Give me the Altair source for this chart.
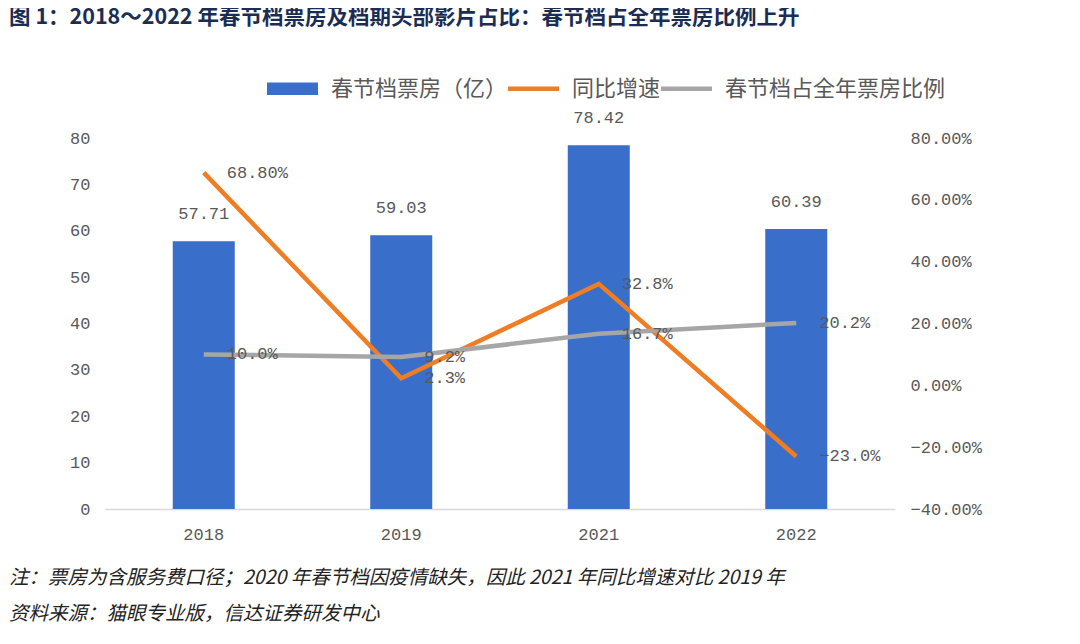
import altair as alt
import pandas as pd

years = ["2018", "2019", "2021", "2022"]
box_office = [57.71, 59.03, 78.42, 60.39]
box_labels = ["57.71", "59.03", "78.42", "60.39"]
yoy = [0.688, 0.023, 0.328, -0.230]
yoy_labels = ["68.80%", "2.3%", "32.8%", "−23.0%"]
share = [0.100, 0.092, 0.167, 0.202]
share_labels = ["10.0%", "9.2%", "16.7%", "20.2%"]

series_names = ["春节档票房（亿）", "同比增速", "春节档占全年票房比例"]
series_colors = ["#3a6ecb", "#ee7d23", "#a6a6a6"]

title_text = "图 1：2018～2022 年春节档票房及档期头部影片占比：春节档占全年票房比例上升"
note_text = "注：票房为含服务费口径；2020 年春节档因疫情缺失，因此 2021 年同比增速对比 2019 年"
source_text = "资料来源：猫眼专业版，信达证券研发中心"

W, H = 790, 371
PAD_L, PAD_T = 97, 130

bar_df = pd.DataFrame({"year": years, "value": box_office, "label": box_labels})
line_df = pd.DataFrame({
    "year": years * 2,
    "value": yoy + share,
    "label": yoy_labels + share_labels,
    "series": [series_names[1]] * 4 + [series_names[2]] * 4,
})
legend_df = pd.DataFrame({"lg": series_names})

MONO = "Liberation Mono"
CJK = "Noto Sans CJK SC"
GREY = "#595959"

x_enc = alt.X("year:N", sort=years,
              scale=alt.Scale(paddingInner=0, paddingOuter=0),
              axis=alt.Axis(title=None, labelAngle=0, labelFont=MONO, labelFontSize=17,
                            labelColor=GREY, labelPadding=17, ticks=False,
                            domainColor="#d9d9d9", domainWidth=1.5))

rect_path = "M-1,-0.25H1V0.25H-1Z"
thin_path = "M-1,-0.09H1V0.09H-1Z"

bars = alt.Chart(bar_df).mark_bar(size=62, color=series_colors[0]).encode(
    x=x_enc,
    y=alt.Y("value:Q", scale=alt.Scale(domain=[0, 80]),
            axis=alt.Axis(title=None, values=[0, 10, 20, 30, 40, 50, 60, 70, 80],
                          labelFont=MONO, labelFontSize=17, labelColor=GREY,
                          labelPadding=15, ticks=False, domain=False, grid=False)),
)
bar_text = alt.Chart(bar_df).mark_text(baseline="middle", dy=-27, font=MONO,
                                       fontSize=17, color=GREY).encode(
    x=alt.X("year:N", sort=years), y="value:Q", text="label:N")

left = alt.layer(bars, bar_text)

lines = alt.Chart(line_df).mark_line(strokeWidth=4.5).encode(
    x=alt.X("year:N", sort=years),
    y=alt.Y("value:Q", scale=alt.Scale(domain=[-0.4, 0.8]),
            axis=alt.Axis(title=None, orient="right", format=".2%",
                          values=[-0.4, -0.2, 0, 0.2, 0.4, 0.6, 0.8],
                          labelFont=MONO, labelFontSize=17, labelColor=GREY,
                          labelPadding=15, ticks=False, domain=False, grid=False)),
    color=alt.Color("series:N", scale=alt.Scale(domain=series_names[1:], range=series_colors[1:]),
                    legend=None),
)
line_text = alt.Chart(line_df).mark_text(align="left", baseline="middle", dx=23,
                                         font=MONO, fontSize=17, color=GREY).encode(
    x=alt.X("year:N", sort=years), y="value:Q", text="label:N")

right = alt.layer(lines, line_text)

legend = alt.Legend(
    title=None, orient="none", legendX=162, legendY=-75, direction="horizontal",
    labelFont=CJK, labelFontSize=22, labelColor=GREY, labelOffset=13, labelLimit=600,
    symbolSize=2600, symbolStrokeWidth=0, symbolOpacity=1, columnPadding=0,
)
legend_layer = alt.Chart(legend_df).mark_point(filled=True, opacity=1, clip=True).encode(
    x=alt.value(0), y=alt.value(-5000),
    color=alt.Color("lg:N", scale=alt.Scale(domain=series_names, range=series_colors),
                    legend=legend),
    shape=alt.Shape("lg:N", scale=alt.Scale(domain=series_names,
                                            range=[rect_path, thin_path, thin_path]),
                    legend=legend),
)

one = pd.DataFrame({"t": [title_text], "n": [note_text], "s": [source_text]})
title_mark = alt.Chart(one).mark_text(align="left", baseline="middle", font=CJK,
                                      fontSize=21.5, fontWeight="bold", color="#1c2d54").encode(
    x=alt.value(-PAD_L + 1), y=alt.value(18 - 8 - PAD_T), text="t:N")
note_mark = alt.Chart(one).mark_text(align="left", baseline="middle", font=CJK,
                                     fontSize=19.5, fontStyle="italic", color="#222222").encode(
    x=alt.value(-PAD_L + 1), y=alt.value(578 - 8 - PAD_T), text="n:N")
source_mark = alt.Chart(one).mark_text(align="left", baseline="middle", font=CJK,
                                       fontSize=19.5, fontStyle="italic", color="#222222").encode(
    x=alt.value(-PAD_L + 1), y=alt.value(614 - 8 - PAD_T), text="s:N")

chart = alt.layer(left, right, legend_layer, title_mark, note_mark, source_mark).resolve_scale(
    y="independent", color="independent", shape="independent"
).properties(
    width=W, height=H,
    padding={"left": PAD_L, "top": PAD_T, "right": 170, "bottom": 120},
    autosize=alt.AutoSizeParams(type="none"),
    background="white",
).configure_view(stroke=None)

chart.save("out.html", embed_options={"renderer": "svg", "actions": False})
